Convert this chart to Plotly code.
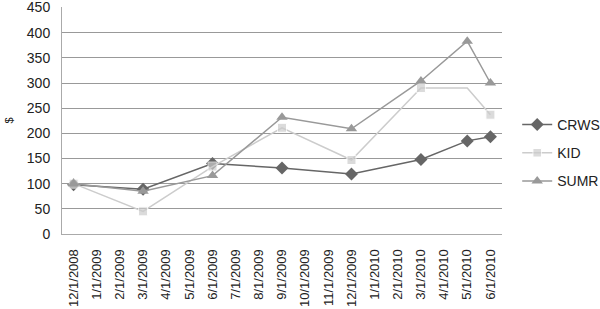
import plotly.graph_objects as go

categories = ["12/1/2008", "1/1/2009", "2/1/2009", "3/1/2009", "4/1/2009", "5/1/2009",
              "6/1/2009", "7/1/2009", "8/1/2009", "9/1/2009", "10/1/2009", "11/1/2009",
              "12/1/2009", "1/1/2010", "2/1/2010", "3/1/2010", "4/1/2010", "5/1/2010",
              "6/1/2010"]
N = None
crws = [98, N, N, 89, N, N, 140, N, N, 131, N, N, 119, N, N, 148, N, 185, 193]
kid = [100, N, N, 45, N, N, 134, N, N, 211, N, N, 147, N, N, 290, N, 290, 237]
sumr = [100, N, N, 85, N, N, 116, N, N, 232, N, N, 209, N, N, 304, N, 383, 300]
y_ticks = [0, 50, 100, 150, 200, 250, 300, 350, 400, 450]

# KID has no visible marker on 5/1/2010
kid_sizes = [9] * len(categories)
kid_sizes[17] = 0

fig = go.Figure()
fig.add_trace(go.Scatter(x=categories, y=crws, name="CRWS", mode="lines+markers",
                         connectgaps=True, legendgroup="a",
                         line=dict(color="#666666", width=1.5),
                         marker=dict(symbol="diamond", size=10, color="#666666")))
fig.add_trace(go.Scatter(x=categories, y=kid, name="KID", mode="lines+markers",
                         connectgaps=True, legendgroup="b",
                         line=dict(color="#cccccc", width=1.5),
                         marker=dict(symbol="square", size=kid_sizes, color="#cccccc")))
fig.add_trace(go.Scatter(x=categories, y=sumr, name="SUMR", mode="lines+markers",
                         connectgaps=True, legendgroup="c",
                         line=dict(color="#999999", width=1.5),
                         marker=dict(symbol="triangle-up", size=10, color="#999999")))

fig.update_layout(
    width=600, height=309,
    margin=dict(l=62, r=98, t=7, b=75, autoexpand=False),
    paper_bgcolor="white", plot_bgcolor="white",
    font=dict(family="Liberation Sans, Arial, sans-serif", color="#222222"),
    showlegend=True,
    legend=dict(xref="container", yref="container", x=0.862, y=0.505,
                xanchor="left", yanchor="middle",
                font=dict(size=14, color="#222222"),
                itemwidth=30, tracegroupgap=7),
    xaxis=dict(type="category", categoryorder="array", categoryarray=categories,
               range=[-0.5, len(categories) - 0.5],
               tickangle=-90, tickfont=dict(size=13), showgrid=False,
               showline=True, linecolor="#aaaaaa", linewidth=1,
               ticks="outside", ticklen=9, tickcolor="rgba(0,0,0,0)",
               automargin=False),
    yaxis=dict(range=[0, 451], tickvals=y_ticks, tickfont=dict(size=14),
               showgrid=True, gridcolor="#999999", gridwidth=1,
               showline=True, linecolor="#aaaaaa", linewidth=1,
               zeroline=False, ticks="outside", ticklen=8,
               tickcolor="rgba(0,0,0,0)", automargin=False,
               ticklabeloverflow="allow",
               title=dict(text="$", font=dict(size=11), standoff=10)),
)
fig.write_html("out.html")
